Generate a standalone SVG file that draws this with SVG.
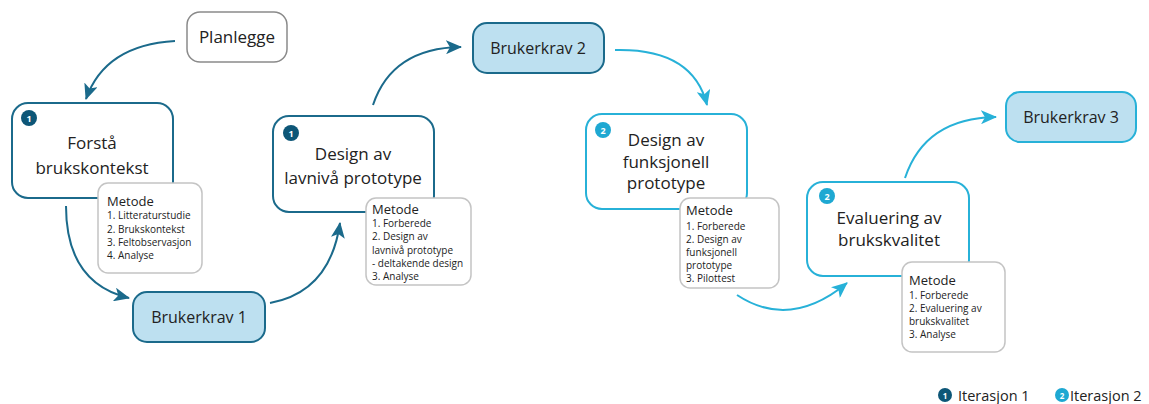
<svg xmlns="http://www.w3.org/2000/svg" width="1149" height="404" viewBox="0 0 1149 404">
<style>
text{font-family:"Open Sans","Noto Sans","Liberation Sans",sans-serif;fill:#222}
.t{font-size:17px;text-anchor:middle}
.k{font-size:16px;text-anchor:middle}
.mh{font-size:13px}
.mi{font-size:10px}
.dark{fill:#fff;stroke:#1b6a8b;stroke-width:2}
.cyan{fill:#fff;stroke:#27b1d8;stroke-width:2}
.req1{fill:#bde0f0;stroke:#1b6a8b;stroke-width:2}
.req2{fill:#bde0f0;stroke:#27b1d8;stroke-width:2}
.met{fill:#fff;stroke:#c4c4c4;stroke-width:1.5}
.b1{fill:#0d5677}
.b2{fill:#1ea8d2}
.bt{fill:#fff;font-size:9px;font-weight:bold;text-anchor:middle}
.c1{fill:none;stroke:#1b6a8b;stroke-width:2;marker-end:url(#a1)}
.c2{fill:none;stroke:#27b1d8;stroke-width:2;marker-end:url(#a2)}
</style>
<defs>
<marker id="a1" markerUnits="userSpaceOnUse" markerWidth="16" markerHeight="14" viewBox="0 0 16 14" refX="15" refY="7" orient="auto"><path d="M0,0 L16,7 L0,14 L4,7 z" fill="#1b6a8b"/></marker>
<marker id="a2" markerUnits="userSpaceOnUse" markerWidth="16" markerHeight="14" viewBox="0 0 16 14" refX="15" refY="7" orient="auto"><path d="M0,0 L16,7 L0,14 L4,7 z" fill="#27b1d8"/></marker>
</defs>
<rect width="1149" height="404" fill="#fff"/>
<g id="connectors">
<path class="c1" d="M175,41 Q105,45 86,99"/>
<path class="c1" d="M66,206 Q66,283 129,298"/>
<path class="c1" d="M270,303 Q330,292 340,223"/>
<path class="c1" d="M373,105 Q392,48 461,47"/>
<path class="c2" d="M615,50 Q693,48 707,105"/>
<path class="c2" d="M737,295 Q790,330 847,283"/>
<path class="c2" d="M905,178 Q925,118 996,117"/>
</g>
<g id="planlegge">
<rect x="187" y="12" width="100" height="50" rx="13" fill="#fff" stroke="#8a8a8a" stroke-width="1.5"/>
<text class="t" x="237" y="43">Planlegge</text>
</g>
<g id="forsta">
<rect class="dark" x="12" y="103" width="161" height="95" rx="16"/>
<circle class="b1" cx="29" cy="118" r="8"/><text class="bt" x="29" y="121.5">1</text>
<text class="t" x="92" y="149">Forstå</text>
<text class="t" x="92" y="174">brukskontekst</text>
</g>
<g id="metode1">
<rect class="met" x="98" y="183" width="104" height="90" rx="10"/>
<text class="mh" x="107" y="206">Metode</text>
<text class="mi" x="107" y="219">1. Litteraturstudie</text>
<text class="mi" x="107" y="233">2. Brukskontekst</text>
<text class="mi" x="107" y="246">3. Feltobservasjon</text>
<text class="mi" x="107" y="259">4. Analyse</text>
</g>
<g id="brukerkrav1">
<rect class="req1" x="133" y="292" width="132" height="50" rx="14"/>
<text class="k" x="199" y="323">Brukerkrav 1</text>
</g>
<g id="lavniva">
<rect class="dark" x="273" y="116" width="161" height="96" rx="16"/>
<circle class="b1" cx="291" cy="133" r="8"/><text class="bt" x="291" y="136.5">1</text>
<text class="t" x="353" y="160">Design av</text>
<text class="t" x="353" y="184">lavnivå prototype</text>
</g>
<g id="metode2">
<rect class="met" x="366" y="198" width="105" height="87" rx="10"/>
<text class="mh" x="372" y="214">Metode</text>
<text class="mi" x="372" y="227">1. Forberede</text>
<text class="mi" x="372" y="240">2. Design av</text>
<text class="mi" x="372" y="254">lavnivå prototype</text>
<text class="mi" x="372" y="267">- deltakende design</text>
<text class="mi" x="372" y="280">3. Analyse</text>
</g>
<g id="brukerkrav2">
<rect class="req1" x="473" y="23" width="131" height="50" rx="14"/>
<text class="k" x="538" y="54">Brukerkrav 2</text>
</g>
<g id="funksjonell">
<rect class="cyan" x="586" y="114" width="161" height="95" rx="16"/>
<circle class="b2" cx="603" cy="130" r="8"/><text class="bt" x="603" y="133.5">2</text>
<text class="t" x="666" y="146">Design av</text>
<text class="t" x="666" y="168">funksjonell</text>
<text class="t" x="666" y="189">prototype</text>
</g>
<g id="metode3">
<rect class="met" x="680" y="198" width="99" height="90" rx="10"/>
<text class="mh" x="686" y="215">Metode</text>
<text class="mi" x="686" y="230">1. Forberede</text>
<text class="mi" x="686" y="243">2. Design av</text>
<text class="mi" x="686" y="256">funksjonell</text>
<text class="mi" x="686" y="269">prototype</text>
<text class="mi" x="686" y="282">3. Pilottest</text>
</g>
<g id="evaluering">
<rect class="cyan" x="807" y="182" width="162" height="94" rx="16"/>
<circle class="b2" cx="827" cy="196" r="8"/><text class="bt" x="827" y="199.5">2</text>
<text class="t" x="889" y="224">Evaluering av</text>
<text class="t" x="889" y="246">brukskvalitet</text>
</g>
<g id="metode4">
<rect class="met" x="902" y="262" width="103" height="90" rx="10"/>
<text class="mh" x="909" y="285">Metode</text>
<text class="mi" x="909" y="299">1. Forberede</text>
<text class="mi" x="909" y="312">2. Evaluering av</text>
<text class="mi" x="909" y="325">brukskvalitet</text>
<text class="mi" x="909" y="338">3. Analyse</text>
</g>
<g id="brukerkrav3">
<rect class="req2" x="1006" y="92" width="130" height="50" rx="14"/>
<text class="k" x="1071" y="123">Brukerkrav 3</text>
</g>
<g id="legend">
<circle class="b1" cx="945" cy="395" r="7"/><text class="bt" x="945" y="398.5" style="font-size:8px">1</text>
<text x="958" y="401" style="font-size:14.5px">Iterasjon 1</text>
<circle class="b2" cx="1062" cy="395" r="7"/><text class="bt" x="1062" y="398.5" style="font-size:8px">2</text>
<text x="1070" y="401" style="font-size:14.5px">Iterasjon 2</text>
</g>
</svg>
